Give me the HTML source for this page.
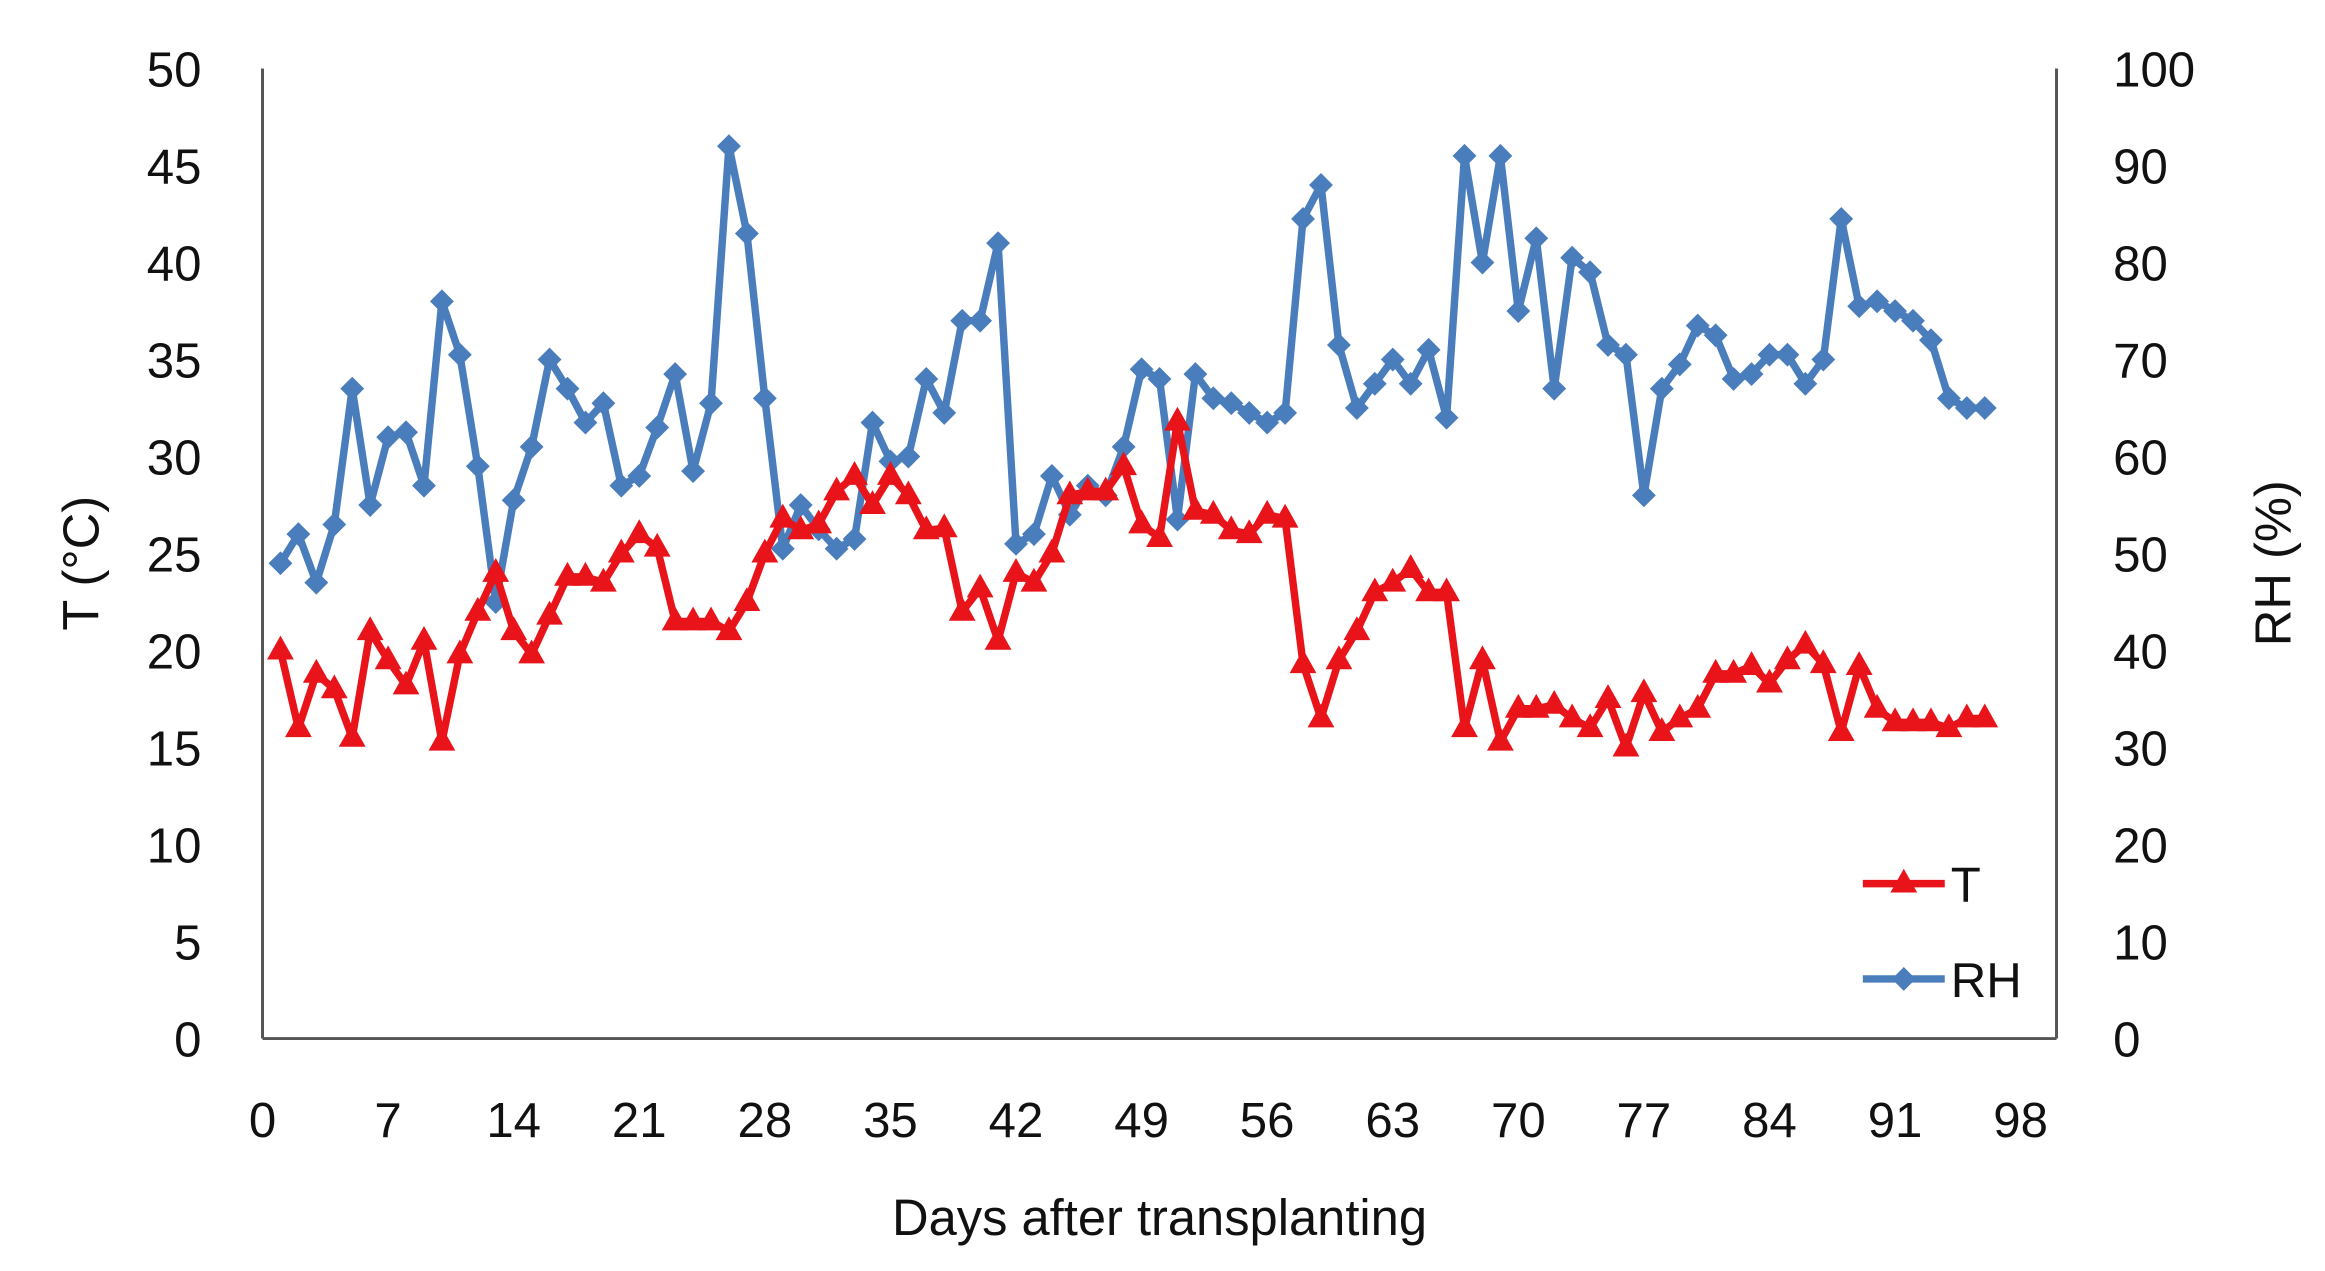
<!DOCTYPE html>
<html><head><meta charset="utf-8"><style>
html,body{margin:0;padding:0;background:#fff;}
svg{display:block;font-family:"Liberation Sans",sans-serif;}
</style></head><body>
<svg id="chart" width="2325" height="1271" viewBox="0 0 1560 853" xmlns="http://www.w3.org/2000/svg">
<rect width="1560" height="853" fill="#fff"/>
<g id="axes"></g>
<g id="series"></g>
<g>
  <g>
    <line x1="1250" y1="593" x2="1305" y2="593" stroke="#e8141a" stroke-width="5"/>
    <polygon points="1277.5,583 1286.5,599 1268.5,599" fill="#e8141a"/>
    <text x="1309" y="605" font-size="33" fill="#111">T</text>
  </g>
  <g>
    <line x1="1250" y1="657" x2="1305" y2="657" stroke="#4a7dbb" stroke-width="5"/>
    <polygon points="1277.5,649 1285.5,657 1277.5,665 1269.5,657" fill="#4a7dbb"/>
    <text x="1309" y="669" font-size="33" fill="#111">RH</text>
  </g>
</g>
<text transform="translate(66,378) rotate(-90)" text-anchor="middle" font-size="34" fill="#111">T (°C)</text>
<text transform="translate(1537,378) rotate(-90)" text-anchor="middle" font-size="34" fill="#111">RH (%)</text>
<text x="778" y="829" text-anchor="middle" font-size="34" fill="#111">Days after transplanting</text>
</svg>
<script>
const days = Array.from({length:96},(_,i)=>i+1);
const tValues = [20,16,18.8,18,15.5,21,19.5,18.2,20.5,15.3,19.8,22,24,21,19.8,21.8,23.8,23.8,23.5,25,26,25.3,21.5,21.5,21.5,21,22.5,25,26.8,26.2,26.5,28.2,29,27.5,29,28,26.2,26.3,22,23.2,20.5,24,23.5,25,28,28.2,28.2,29.5,26.5,25.8,31.8,27.2,27,26.2,26,27,26.8,19.3,16.5,19.5,21,23,23.5,24.2,23,23,16,19.5,15.3,17,17,17.2,16.5,16,17.5,15,17.8,15.8,16.5,17,18.8,18.8,19.2,18.3,19.5,20.3,19.3,15.8,19.2,17,16.3,16.3,16.3,16,16.5,16.5];
const rhValues = [49,52,47,53,67,55,62,62.5,57,76,70.5,59,45,55.5,61,70,67,63.5,65.5,57,58,63,68.5,58.5,65.5,92,83,66,50.5,55,52.5,50.5,51.5,63.5,59.5,60,68,64.5,74,74,82,51,52,58,54,57,56,61,69,68,53.5,68.5,66,65.5,64.5,63.5,64.5,84.5,88,71.5,65,67.5,70,67.5,71,64,91,80,91,75,82.5,67,80.5,79,71.5,70.5,56,67,69.5,73.5,72.5,68,68.5,70.5,70.5,67.5,70,84.5,75.5,76,75,74,72,66,65,65];
const xTicks = [0,7,14,21,28,35,42,49,56,63,70,77,84,91,98];
const yLeftTicks = [0,5,10,15,20,25,30,35,40,45,50];
const yRightTicks = [0,10,20,30,40,50,60,70,80,90,100];

const NS='http://www.w3.org/2000/svg';
const L=176,R=1380,B=697,T=46;
const xs=d=>L+(d/100)*(R-L);
const yT=v=>B-(v/50)*(B-T);
const yRH=v=>B-(v/100)*(B-T);
function mk(tag,attrs,parent){const e=document.createElementNS(NS,tag);for(const k in attrs)e.setAttribute(k,attrs[k]);parent.appendChild(e);return e;}
const ax=document.getElementById('axes'), se=document.getElementById('series');

let e=mk('line',{x1:L,y1:T,x2:L,y2:B,stroke:'#555','stroke-width':2},ax);


e=mk('line',{x1:R,y1:T,x2:R,y2:B,stroke:'#555','stroke-width':2},ax);


e=mk('line',{x1:L,y1:B,x2:R,y2:B,stroke:'#555','stroke-width':2},ax);



xTicks.forEach(v=>{const t=mk('text',{x:xs(v),y:B+66,'text-anchor':'middle','font-size':33,fill:'#111'},ax);t.textContent=v;

});
yLeftTicks.forEach(v=>{const t=mk('text',{x:135,y:yT(v)+12,'text-anchor':'end','font-size':33,fill:'#111'},ax);t.textContent=v;

});
yRightTicks.forEach(v=>{const t=mk('text',{x:1418,y:yRH(v)+12,'text-anchor':'start','font-size':33,fill:'#111'},ax);t.textContent=v;

});

const rhG=mk('g',{},se);


mk('polyline',{points:days.map((d,i)=>xs(d)+','+yRH(rhValues[i])).join(' '),fill:'none',stroke:'#4a7dbb','stroke-width':5,'stroke-linejoin':'round'},rhG);
days.forEach((d,i)=>{const x=xs(d),y=yRH(rhValues[i]);
const p=mk('polygon',{points:`${x},${y-8} ${x+8},${y} ${x},${y+8} ${x-8},${y}`,fill:'#4a7dbb'},rhG);

});

const tG=mk('g',{},se);


mk('polyline',{points:days.map((d,i)=>xs(d)+','+yT(tValues[i])).join(' '),fill:'none',stroke:'#e8141a','stroke-width':5,'stroke-linejoin':'round'},tG);
days.forEach((d,i)=>{const x=xs(d),y=yT(tValues[i]);
const p=mk('polygon',{points:`${x},${y-10} ${x+9},${y+6} ${x-9},${y+6}`,fill:'#e8141a'},tG);

});
</script>
</body></html>
